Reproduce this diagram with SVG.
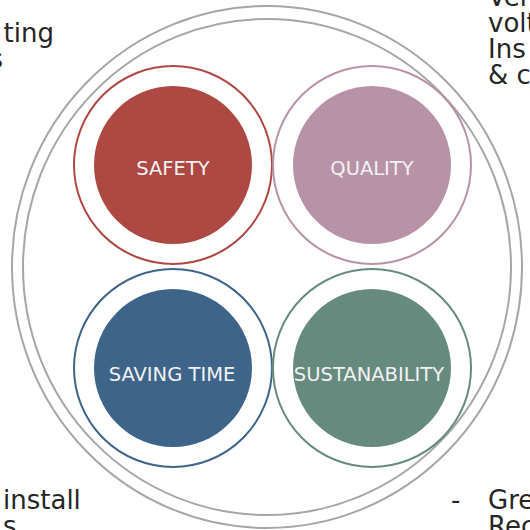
<svg xmlns="http://www.w3.org/2000/svg" width="530" height="530" viewBox="0 0 530 530">
<style>
.side{font-family:"DejaVu Sans","Verdana",sans-serif;font-size:26px;fill:#262626}
.lbl{font-family:"DejaVu Sans","Verdana",sans-serif;font-size:19.5px;fill:#f2f2f2;text-anchor:middle}
.frame{fill:none;stroke:#a6a6a6;stroke-width:2}
.ring{fill:#fff;stroke-width:2}
</style>
<rect width="530" height="530" fill="#fff"/>
<g id="side-text">
<text class="side" x="54" y="42" text-anchor="end">ting</text>
<text class="side" x="3" y="68" text-anchor="end">s</text>
<text class="side" x="488" y="6">Ver</text>
<text class="side" x="488" y="32">volt</text>
<text class="side" x="488" y="58">Ins</text>
<text class="side" x="488" y="84">&amp; c</text>
<text class="side" x="3" y="509">install</text>
<text class="side" x="3" y="535">s</text>
<text class="side" x="451" y="509">-</text>
<text class="side" x="488" y="509">Gre</text>
<text class="side" x="488" y="535">Rec</text>
</g>
<g id="frame">
<ellipse class="frame" cx="267" cy="267" rx="255" ry="261"/>
<ellipse class="frame" cx="267" cy="267" rx="244" ry="248"/>
</g>
<g id="safety">
<circle class="ring" cx="173" cy="165" r="99" stroke="#ad4843"/>
<circle cx="173" cy="165" r="79" fill="#ad4843"/>
<text class="lbl" x="173" y="175">SAFETY</text>
</g>
<g id="quality">
<circle class="ring" cx="372" cy="165" r="99" stroke="#b893a8"/>
<circle cx="372" cy="165" r="79" fill="#b893a8"/>
<text class="lbl" x="372" y="175">QUALITY</text>
</g>
<g id="saving-time">
<circle class="ring" cx="173" cy="368" r="99" stroke="#3e6489"/>
<circle cx="173" cy="368" r="79" fill="#3e6489"/>
<text class="lbl" x="172" y="381">SAVING TIME</text>
</g>
<g id="sustainability">
<circle class="ring" cx="372" cy="368" r="99" stroke="#678a7e"/>
<circle cx="372" cy="368" r="79" fill="#678a7e"/>
<text class="lbl" x="369" y="381">SUSTANABILITY</text>
</g>
</svg>
